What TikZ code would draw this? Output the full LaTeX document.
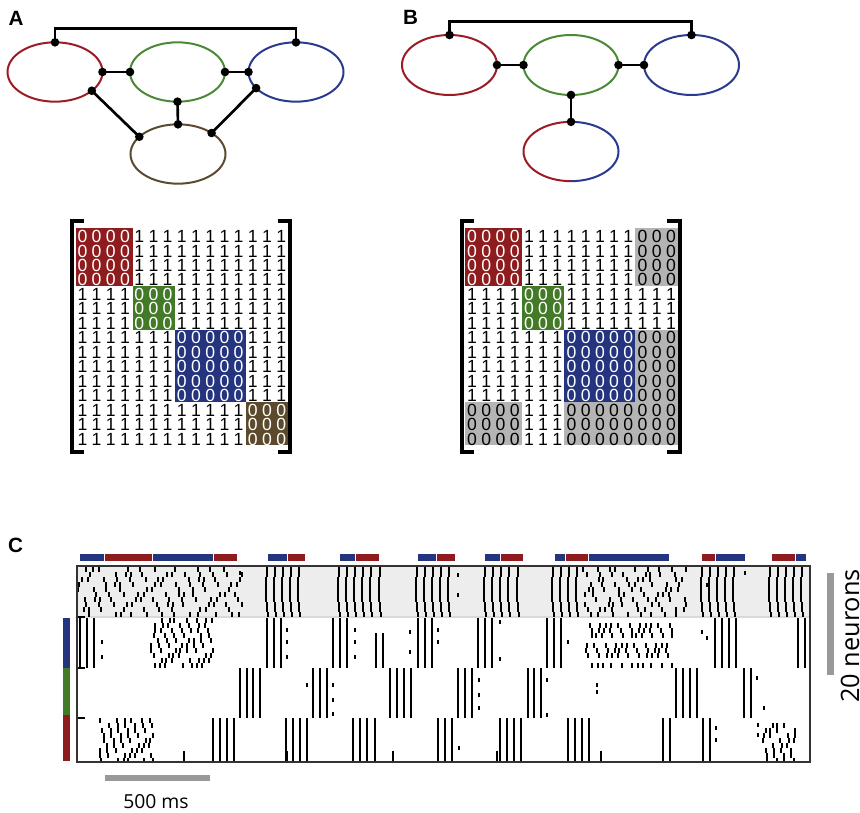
\documentclass[tikz,border=0pt]{standalone}
\usepackage{fontspec}
\setmainfont{Liberation Sans}
\newfontfamily\barfont{Open Sans}
\usetikzlibrary{shapes.geometric}
\definecolor{ered}{HTML}{9B1C24}
\definecolor{egreen}{HTML}{4A8A37}
\definecolor{eblue}{HTML}{2B3A8E}
\definecolor{ebrown}{HTML}{5C4A30}
\definecolor{mred}{HTML}{8E1C1E}
\definecolor{mgreen}{HTML}{437A27}
\definecolor{mblue}{HTML}{25347F}
\definecolor{mbrown}{HTML}{5B4A2B}
\definecolor{mgray}{HTML}{B4B4B4}
\definecolor{bandgray}{HTML}{EDEDED}
\definecolor{scalec}{HTML}{999999}
\definecolor{boxc}{HTML}{333333}
% block of a matrix: left edge, first col, last col, first row, last row, colour
\newcommand{\mblock}[6]{\fill[#6] (#1+14.2*#2,228.3+14.47*#4) rectangle (#1+14.2*#3+14.2,228.3+14.47*#5+14.47);}
% raster bursts: top y, rows, amplitude, spike times
\newcommand{\syncburst}[4]{\foreach \t in {#4}{\foreach \i in {1,...,#2}{%
  \pgfmathsetmacro\xo{\t+#3*sin(\i*180/#2)}%
  \draw[spk] (\xo,#1+5*\i-5) -- ++(0,5);}}}
\newcommand{\wavyburst}[4]{\foreach \t in {#4}{\foreach \i in {1,...,#2}{%
  \pgfmathsetmacro\xo{\t+#3*sin(\i*55+\t*9)}%
  \pgfmathtruncatemacro\k{mod(\i*7+int(\t),4)}%
  \ifnum\k=0\else\draw[spk] (\xo,#1+5*\i-5) -- ++(0,4.6);\fi}}}

\begin{document}
\begin{tikzpicture}[x=0.75pt,y=-0.75pt,
  ell/.style={ellipse,draw,line width=1.5pt,minimum width=71.25pt,minimum height=44.5pt,inner sep=0pt,outer sep=0pt},
  link/.style={line width=2pt},
  brk/.style={line width=3pt},
  dig/.style={inner sep=0pt,font=\fontsize{13.2}{13.2}\selectfont},
  spk/.style={line width=1.5pt},
  lab/.style={font=\bfseries\fontsize{15.5}{15.5}\selectfont}]
\useasboundingbox (0,0) rectangle (860,813);

% A: four groups
\node[lab] (labA) at (16,18.5) {A};
\node[ell,draw=ered] (redA) at (55,72) {};
\node[ell,draw=egreen] (greenA) at (177.5,72) {};
\node[ell,draw=eblue] (blueA) at (296,72) {};
\node[ell,draw=ebrown] (brownA) at (178,154) {};
\draw[link] (redA.north) -- ++(0,-13.5) -| (blueA.north);
\draw[link] (redA.east) -- (greenA.west);
\draw[link] (greenA.east) -- (blueA.west);
\draw[link] (greenA.south) -- (brownA.north);
\draw[link] (redA.-27) -- (brownA.156);
\draw[link] (blueA.202) -- (brownA.32);
\foreach \p in {redA.north,blueA.north,redA.east,greenA.west,greenA.east,blueA.west,
  greenA.south,brownA.north,redA.-27,brownA.156,blueA.202,brownA.32}
  \fill (\p) circle[radius=4.3];

% B: shared group
\node[lab] (labB) at (410.5,17.5) {B};
\node[ell,draw=ered,minimum height=45pt] (redB) at (449.5,65) {};
\node[ell,draw=egreen,minimum height=45pt] (greenB) at (571,65) {};
\node[ell,draw=eblue,minimum height=45pt] (blueB) at (691.5,65) {};
\node[ell,draw=none] (botB) at (571,151.5) {};
\draw[ered,line width=1.5pt] (botB.north) arc[start angle=-90,end angle=-270,x radius=47.5,y radius=29.67];
\draw[eblue,line width=1.5pt] (botB.north) arc[start angle=-90,end angle=90,x radius=47.5,y radius=29.67];
\draw[link] (redB.north) -- ++(0,-13.5) -| (blueB.north);
\draw[link] (redB.east) -- (greenB.west);
\draw[link] (greenB.east) -- (blueB.west);
\draw[link] (greenB.south) -- (botB.north);
\foreach \p in {redB.north,blueB.north,redB.east,greenB.west,greenB.east,blueB.west,greenB.south,botB.north}
  \fill (\p) circle[radius=4.3];

% matrix A
\mblock{75.8}{0}{3}{0}{3}{mred}
\mblock{75.8}{4}{6}{4}{6}{mgreen}
\mblock{75.8}{7}{11}{7}{11}{mblue}
\mblock{75.8}{12}{14}{12}{14}{mbrown}
\foreach \r in {0,...,14}{\foreach \c in {0,...,14}{
  \pgfmathtruncatemacro\gr{(\r>3)+(\r>6)+(\r>11)}
  \pgfmathtruncatemacro\gc{(\c>3)+(\c>6)+(\c>11)}
  \ifnum\gr=\gc\def\dval{0}\def\dcol{white}\else\def\dval{1}\def\dcol{black}\fi
  \node[dig,text=\dcol] (ma-\r-\c) at (82.4+14.2*\c,236.5+14.47*\r) {\dval};
}}
\draw[brk] (84,221) -| (72,452) -- (84,452);
\draw[brk] (278,221) -| (290,452) -- (278,452);

% matrix B
\mblock{465}{0}{3}{0}{3}{mred}
\mblock{465}{4}{6}{4}{6}{mgreen}
\mblock{465}{7}{11}{7}{11}{mblue}
\mblock{465}{12}{14}{0}{3}{mgray}
\mblock{465}{12}{14}{7}{14}{mgray}
\mblock{465}{0}{3}{12}{14}{mgray}
\mblock{465}{7}{11}{12}{14}{mgray}
\foreach \r in {0,...,14}{\foreach \c in {0,...,14}{
  \pgfmathtruncatemacro\gr{(\r>3)+(\r>6)+(\r>11)}
  \pgfmathtruncatemacro\gc{(\c>3)+(\c>6)+(\c>11)}
  \pgfmathtruncatemacro\zz{(\gr==\gc)||((\gr==3)&&((\gc==0)||(\gc==2)))||((\gc==3)&&((\gr==0)||(\gr==2)))}
  \pgfmathtruncatemacro\ww{(\gr==\gc)&&(\gr<3)}
  \ifnum\zz=1\def\dval{0}\else\def\dval{1}\fi
  \ifnum\ww=1\def\dcol{white}\else\def\dcol{black}\fi
  \node[dig,text=\dcol] (mb-\r-\c) at (472.1+14.2*\c,236.5+14.47*\r) {\dval};
}}
\draw[brk] (474,221) -| (462,452) -- (474,452);
\draw[brk] (667,221) -| (680,452) -- (667,452);

% C: stimulus and raster
\node[lab] (labC) at (15.5,545.5) {C};
\foreach \a/\b/\c in {80/104/mblue,105/152/mred,153/213/mblue,214/237/mred,268/287/mblue,287.5/305/mred,
  340/355/mblue,356/379/mred,418/436/mblue,437/455/mred,485/500/mblue,500.5/523/mred,555/565/mblue,
  566/588/mred,589/669/mblue,702/715/mred,716/745/mblue,772/795/mred,795.5/806/mblue}
  \fill[\c] (\a,554) rectangle (\b,561);
\fill[bandgray] (77,566) rectangle (810,617);
\draw[gray!30,line width=0.8pt] (77,617) -- (810,617);

% shared group
\wavyburst{567}{10}{4}{82,92.4,...,240}
\syncburst{567}{10}{-2.5}{268,276,284,292,300}
\syncburst{567}{10}{-2.5}{340,348,356,364,372,381}
\syncburst{567}{10}{-2.5}{418,426,434,442,450}
\syncburst{567}{10}{-2.5}{486,494,502,510,519}
\syncburst{567}{10}{-2.5}{554,562,570,578}
\wavyburst{567}{10}{4}{587,596.5,...,690}
\syncburst{567}{10}{-2.5}{703,711,719,727,735}
\syncburst{567}{10}{-2.5}{771,779,787,795,803}
% blue group
\syncburst{618}{10}{0}{80,87,94}
\wavyburst{618}{10}{2.5}{153,160.2,...,211}
\syncburst{618}{10}{0}{267,274,281}
\syncburst{618}{10}{0}{333,340,347}
\syncburst{633}{7}{0}{376,383}
\syncburst{618}{10}{0}{418,425,432}
\syncburst{618}{10}{0}{478,485,492}
\syncburst{618}{10}{0}{547,554,561}
\wavyburst{618}{10}{3}{589,597,...,673}
\syncburst{618}{10}{0}{715,722,729,736}
\syncburst{618}{10}{0}{798,805}
% green group
\syncburst{668}{10}{0}{240,247,253,260}
\syncburst{668}{10}{0}{313,320,327}
\syncburst{668}{10}{0}{390,397,404,411}
\syncburst{668}{10}{0}{458,465,472}
\syncburst{668}{10}{0}{528,534,541}
\syncburst{668}{10}{0}{676,683,690,697}
\syncburst{668}{10}{0}{744,751}
% red group
\wavyburst{718}{9}{2.5}{102,109,...,154}
\syncburst{718}{9}{0}{213,220,227,234}
\syncburst{718}{9}{0}{286,293,300,307}
\syncburst{718}{9}{0}{353,360,367,375}
\syncburst{718}{9}{0}{438,445,452}
\syncburst{718}{9}{0}{500,507,514,521}
\syncburst{718}{9}{0}{568,575,582,589}
\syncburst{718}{9}{0}{663,670}
\syncburst{718}{9}{0}{703,710}
\wavyburst{723}{8}{2.5}{765,772,...,794}
% single spikes
\foreach \x/\y in {240/571,458/573,458/593,707/583,745/571,102/640,102/655,287/628,287/640,287/655,
  355/628,355/640,355/655,410/630,410/650,438/628,438/640,500/620,500/657,568/640,702/630,707/636,
  307/683,333/683,333/698,333/712,479/678,479/693,479/706,547/678,547/713,597/683,597/690,
  757/676,764/706,459/746,716/726,716/738,758/723,758/733}
  \draw[spk] (\x,\y) -- ++(0,4.4);
\foreach \x in {184,287,393,497,601,703}
  \draw[spk] (\x,751) -- (\x,762);
\foreach \y in {617,668,718}
  \draw[line width=1.5pt] (77,\y) -- (85,\y);
\draw[boxc,line width=1.6pt] (77,566) rectangle (810,762);

% group colour bar
\fill[mblue] (63,618) rectangle (70,668);
\fill[mgreen] (63,668) rectangle (70,715);
\fill[mred] (63,715) rectangle (70,761);

% scale bars
\fill[scalec] (105,775) rectangle (210,781);
\node[font=\barfont\fontsize{14.5}{14.5}\selectfont] (msL) at (156,802) {500 ms};
\fill[scalec] (827,573) rectangle (834,675);
\node[rotate=90,font=\barfont\fontsize{19}{19}\selectfont] (neuL) at (850,636) {20 neurons};
\end{tikzpicture}
\end{document}
